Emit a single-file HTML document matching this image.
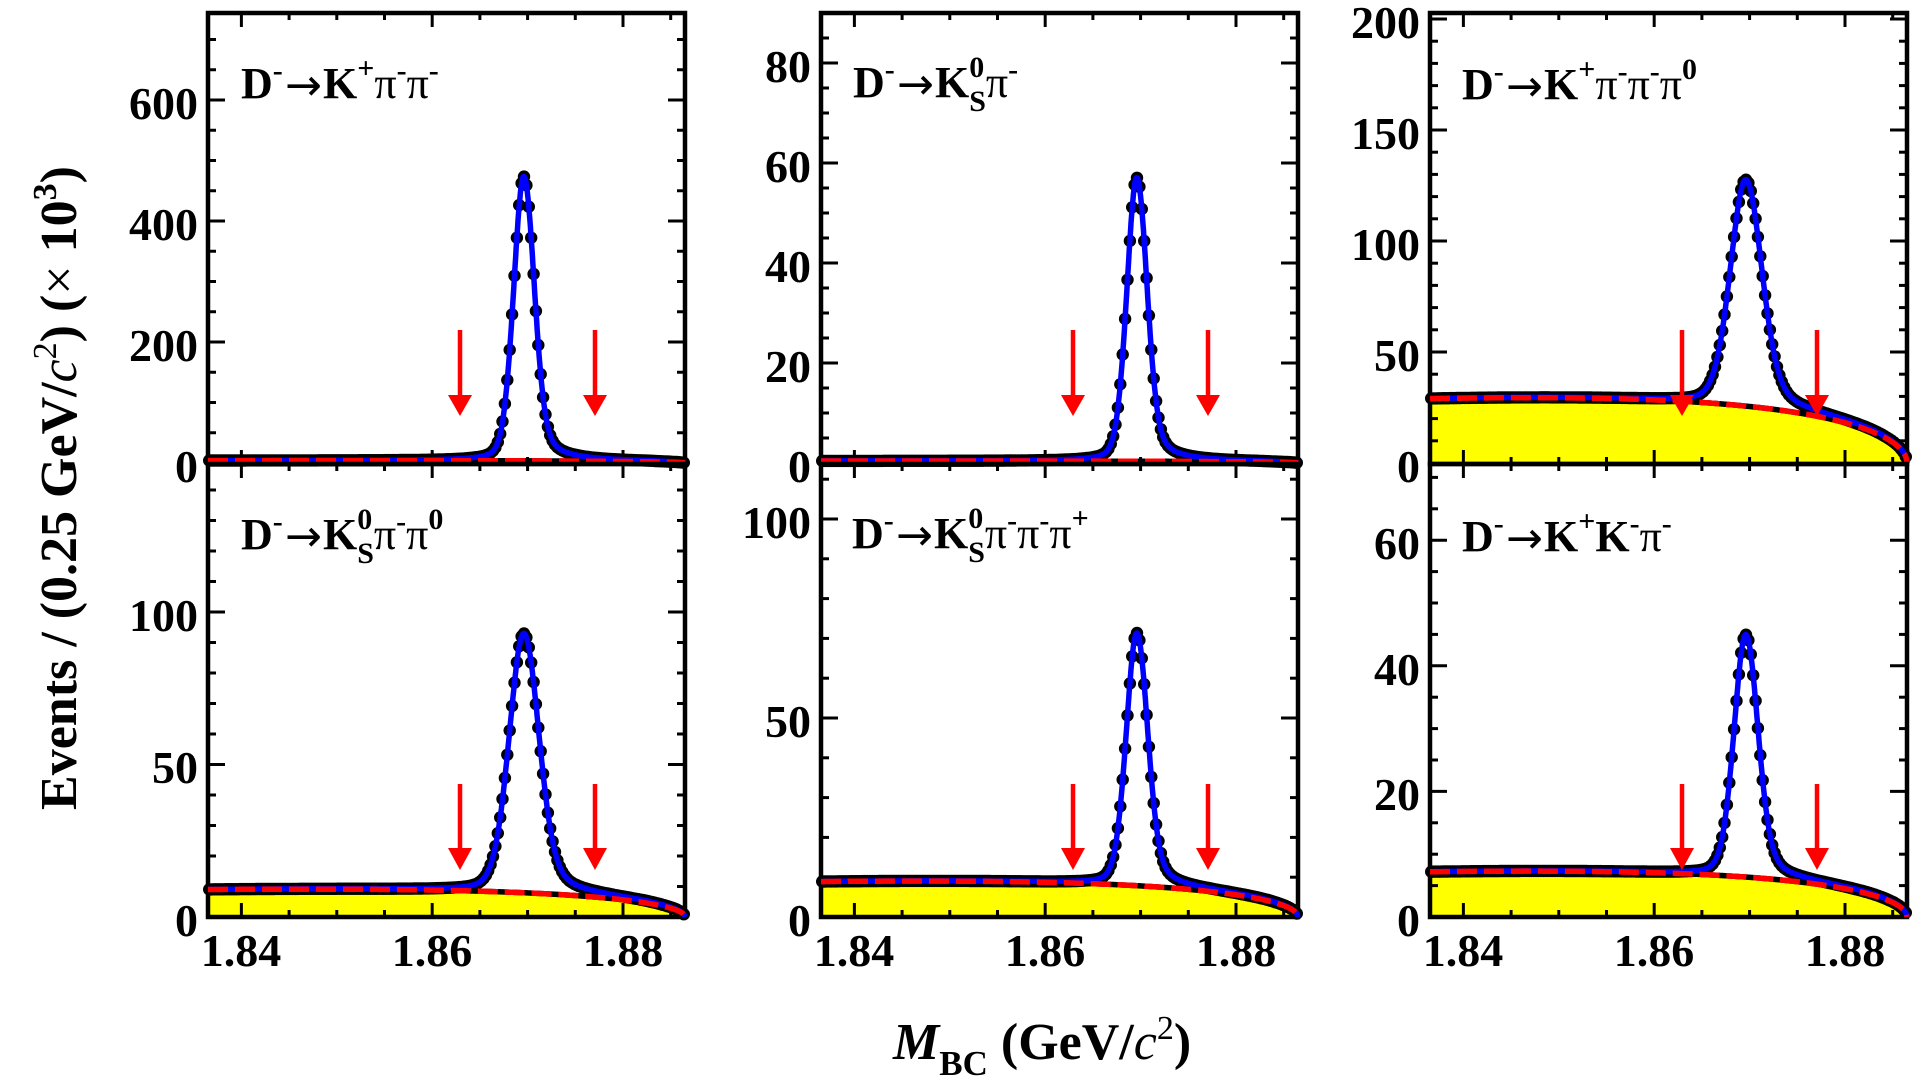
<!DOCTYPE html>
<html>
<head>
<meta charset="utf-8">
<style>
html,body{margin:0;padding:0;background:#fff;}
svg{display:block;}
.num{font-family:"Liberation Serif",serif;font-weight:bold;font-size:46px;fill:#000;}
.lab{font-family:"Liberation Serif",serif;font-size:44px;fill:#000;}
.arw{font-family:"DejaVu Sans",sans-serif;font-size:44px;fill:#000;}
.b{font-weight:bold;}
.sp{font-size:30px;font-weight:bold;}
.ttl{font-family:"Liberation Serif",serif;font-weight:bold;font-size:52px;fill:#000;}
</style>
</head>
<body>
<svg id="s" width="1919" height="1082" viewBox="0 0 1919 1082" xmlns="http://www.w3.org/2000/svg">
<rect width="1919" height="1082" fill="#fff"/>
<g id="plots"></g>

<!-- y tick labels -->
<g class="num" text-anchor="end">
  <text x="198" y="482">0</text><text x="198" y="361">200</text><text x="198" y="240">400</text><text x="198" y="119">600</text>
  <text x="811" y="482">0</text><text x="811" y="382">20</text><text x="811" y="282">40</text><text x="811" y="182">60</text><text x="811" y="82">80</text>
  <text x="1420" y="482">0</text><text x="1420" y="371">50</text><text x="1420" y="260">100</text><text x="1420" y="149">150</text><text x="1420" y="38">200</text>
  <text x="198" y="936">0</text><text x="198" y="783">50</text><text x="198" y="631">100</text>
  <text x="811" y="936">0</text><text x="811" y="737">50</text><text x="811" y="538">100</text>
  <text x="1420" y="936">0</text><text x="1420" y="810">20</text><text x="1420" y="685">40</text><text x="1420" y="559">60</text>
</g>
<!-- x tick labels -->
<g class="num" text-anchor="middle">
  <text x="241" y="966">1.84</text><text x="432" y="966">1.86</text><text x="623" y="966">1.88</text>
  <text x="854" y="966">1.84</text><text x="1045" y="966">1.86</text><text x="1236" y="966">1.88</text>
  <text x="1463" y="966">1.84</text><text x="1654" y="966">1.86</text><text x="1845" y="966">1.88</text>
</g>

<!-- panel labels -->
<!-- P1 -->
<text class="lab" x="241" y="98"><tspan class="b">D</tspan><tspan class="sp" dy="-18">-</tspan></text>
<text class="arw" x="285" y="100" textLength="37" lengthAdjust="spacingAndGlyphs">→</text>
<text class="lab" x="323" y="98"><tspan class="b">K</tspan><tspan class="sp" dy="-20">+</tspan><tspan dy="20">π</tspan><tspan class="sp" dy="-18">-</tspan><tspan dy="18">π</tspan><tspan class="sp" dy="-18">-</tspan></text>

<!-- P2 -->
<text class="lab" x="853" y="97"><tspan class="b">D</tspan><tspan class="sp" dy="-18">-</tspan></text>
<text class="arw" x="897" y="99" textLength="37" lengthAdjust="spacingAndGlyphs">→</text>
<text class="lab" x="935" y="97"><tspan class="b">K</tspan><tspan class="sp" dy="-20">0</tspan><tspan class="sp" dx="-15" dy="34">S</tspan><tspan dy="-14">π</tspan><tspan class="sp" dy="-18">-</tspan></text>

<!-- P3 -->
<text class="lab" x="1462" y="99"><tspan class="b">D</tspan><tspan class="sp" dy="-18">-</tspan></text>
<text class="arw" x="1506" y="101" textLength="37" lengthAdjust="spacingAndGlyphs">→</text>
<text class="lab" x="1544" y="99"><tspan class="b">K</tspan><tspan class="sp" dy="-20">+</tspan><tspan dy="20">π</tspan><tspan class="sp" dy="-18">-</tspan><tspan dy="18">π</tspan><tspan class="sp" dy="-18">-</tspan><tspan dy="18">π</tspan><tspan class="sp" dy="-20">0</tspan></text>

<!-- P4 -->
<text class="lab" x="241" y="549"><tspan class="b">D</tspan><tspan class="sp" dy="-18">-</tspan></text>
<text class="arw" x="285" y="551" textLength="37" lengthAdjust="spacingAndGlyphs">→</text>
<text class="lab" x="323" y="549"><tspan class="b">K</tspan><tspan class="sp" dy="-20">0</tspan><tspan class="sp" dx="-15" dy="34">S</tspan><tspan dy="-14">π</tspan><tspan class="sp" dy="-18">-</tspan><tspan dy="18">π</tspan><tspan class="sp" dy="-20">0</tspan></text>

<!-- P5 -->
<text class="lab" x="852" y="548"><tspan class="b">D</tspan><tspan class="sp" dy="-18">-</tspan></text>
<text class="arw" x="896" y="550" textLength="37" lengthAdjust="spacingAndGlyphs">→</text>
<text class="lab" x="934" y="548"><tspan class="b">K</tspan><tspan class="sp" dy="-20">0</tspan><tspan class="sp" dx="-15" dy="34">S</tspan><tspan dy="-14">π</tspan><tspan class="sp" dy="-18">-</tspan><tspan dy="18">π</tspan><tspan class="sp" dy="-18">-</tspan><tspan dy="18">π</tspan><tspan class="sp" dy="-20">+</tspan></text>

<!-- P6 -->
<text class="lab" x="1462" y="551"><tspan class="b">D</tspan><tspan class="sp" dy="-18">-</tspan></text>
<text class="arw" x="1506" y="553" textLength="37" lengthAdjust="spacingAndGlyphs">→</text>
<text class="lab" x="1544" y="551"><tspan class="b">K</tspan><tspan class="sp" dy="-20">+</tspan><tspan dy="20" class="b">K</tspan><tspan class="sp" dy="-18">-</tspan><tspan dy="18">π</tspan><tspan class="sp" dy="-18">-</tspan></text>

<!-- axis titles -->
<text class="ttl" text-anchor="middle" transform="translate(76,488) rotate(-90)">Events / (0.25 GeV/<tspan font-style="italic" font-weight="normal">c</tspan><tspan font-size="34" font-weight="normal" dy="-20">2</tspan><tspan dy="20">) (</tspan><tspan font-weight="normal">×</tspan> 10<tspan font-size="34" dy="-20">3</tspan><tspan dy="20">)</tspan></text>

<text class="ttl" x="893" y="1059"><tspan font-style="italic">M</tspan><tspan font-size="35" dy="16">BC</tspan><tspan dy="-16"> (GeV/</tspan><tspan font-style="italic" font-weight="normal">c</tspan><tspan font-size="34" font-weight="normal" dy="-20">2</tspan><tspan dy="20">)</tspan></text>
</svg>

<script>
(function(){
var NS="http://www.w3.org/2000/svg";
var g=document.getElementById('plots');
function el(tag,attrs,parent){var e=document.createElementNS(NS,tag);for(var k in attrs)e.setAttribute(k,attrs[k]);(parent||g).appendChild(e);return e;}
var m0=1.8865,mL=1.8365,W=477,SC=W/0.05;
var c=-11.5,mu=1.8696;
var panels=[
 {L:208,T:13,B:464,y0:463,k:0.605,ymax:744,bl:4,A:470,fw:2.5,minor:50,major:200},
 {L:821,T:13,B:464,y0:463,k:5.0,ymax:90,bl:0.4,A:56.7,fw:2.45,minor:5,major:20},
 {L:1430,T:13,B:464,y0:463,k:2.22,ymax:202,bl:29,A:102,fw:3.8,minor:10,major:50},
 {L:208,T:464,B:917,y0:917,k:3.05,ymax:148,bl:9.0,A:85,fw:3.6,minor:10,major:50},
 {L:821,T:464,B:917,y0:917,k:3.98,ymax:113,bl:8.9,A:63.5,fw:2.6,minor:10,major:50},
 {L:1430,T:464,B:917,y0:917,k:6.28,ymax:72,bl:7.2,A:38.6,fw:2.9,minor:5,major:20}
];
function argus(m){var r=m/m0;var u=1-r*r;if(u<=0)return 0;return m*Math.sqrt(u)*Math.exp(c*u);}
var aL=argus(mL);
function bkg(p,m){return p.bl*argus(m)/aL;}
function sig(p,m){
  var d=(m-mu)*1000;var s=p.fw/2.355;
  var G=Math.exp(-d*d/(2*s*s));
  var gm=d<0?1.2*s:1.8*s;
  var Lz=1/(1+(d/gm)*(d/gm));
  var e=(m0-m)/0.004;e=e>=1?1:(e<=0?0:Math.sqrt(e));
  return p.A*(0.8*G+0.2*Lz)*e;
}
function path(pts){return 'M'+pts.map(function(q){return q[0].toFixed(1)+','+q[1].toFixed(1);}).join('L');}
panels.forEach(function(p){
  var R=p.L+W;
  function X(m){return p.L+(m-mL)*SC;}
  function Y(v){return p.y0-v*p.k;}
  var bp=[],tp=[];
  for(var i=0;i<=1000;i++){
    var m=mL+i*0.00005; if(m>m0)m=m0;
    var b=bkg(p,m);
    bp.push([X(m),Y(b)]);
    tp.push([X(m),Y(b+sig(p,m))]);
  }
  if(p.bl*p.k>5){
    var fp=bp.slice();fp.push([R,p.y0]);fp.push([p.L,p.y0]);
    el('path',{d:path(fp)+'Z',fill:'#ffff00',stroke:'none'});
  }
  var tk=el('g',{stroke:'#000','stroke-width':3});
  for(var v=0;v<=p.ymax+0.001;v+=p.minor){
    var y=Y(v); if(y<p.T+3||y>p.B-3)continue;
    var major=Math.abs(v/p.major-Math.round(v/p.major))<1e-6;
    var len=major?17:8;
    el('line',{x1:p.L,y1:y,x2:p.L+len,y2:y},tk);
    el('line',{x1:R,y1:y,x2:R-len,y2:y},tk);
  }
  for(var j=0;j<10;j++){
    var xv=1.84+j*0.005;var x=X(xv);
    var ln=(j%4===0)?14:7;
    el('line',{x1:x,y1:p.B,x2:x,y2:p.B-ln},tk);
    el('line',{x1:x,y1:p.T,x2:x,y2:p.T+ln},tk);
  }
  el('rect',{x:p.L,y:p.T,width:W,height:p.B-p.T,fill:'none',stroke:'#000','stroke-width':4.5});
  var dg=el('g',{fill:'#000'});
  for(var n=0;n<200;n++){
    var mm=mL+(n+0.5)*0.00025;
    var val=bkg(p,mm)+sig(p,mm);
    el('circle',{cx:X(mm).toFixed(1),cy:Y(val).toFixed(1),r:6.2},dg);
  }
  el('path',{d:path(bp),fill:'none',stroke:'#000','stroke-width':5.5,'stroke-linejoin':'round'});
  el('path',{d:path(tp),fill:'none',stroke:'#0000ff','stroke-width':5.5,'stroke-linejoin':'round'});
  el('path',{d:path(bp),fill:'none',stroke:'#ff0000','stroke-width':5.5,'stroke-dasharray':'20 7'});
  var top=p.T===13?[330,395,416]:[784,848,870];
  [252,387].forEach(function(off){
    var ax=p.L+off;
    el('rect',{x:ax-2.25,y:top[0],width:4.5,height:top[1]-top[0]+1,fill:'#ff0000'});
    el('polygon',{points:(ax-12)+','+top[1]+' '+(ax+12)+','+top[1]+' '+ax+','+top[2],fill:'#ff0000'});
  });
});
})();
</script>
</body>
</html>
